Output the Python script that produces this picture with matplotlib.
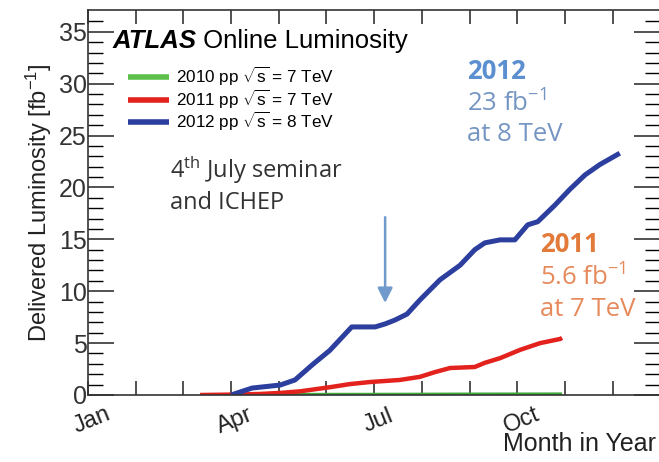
import matplotlib
matplotlib.use("Agg")
import matplotlib.pyplot as plt
import numpy as np

plt.rcParams['font.family'] = ['Liberation Sans', 'DejaVu Sans']
plt.rcParams['mathtext.fontset'] = 'custom'
plt.rcParams['mathtext.rm'] = 'Liberation Sans'
plt.rcParams['mathtext.it'] = 'Liberation Sans:italic'

# Months since Jan 1 (x) and delivered luminosity in fb^-1 (y)
months_2012 = [3.0, 3.44, 4.03, 4.34, 4.70, 5.07, 5.53, 6.02, 6.23, 6.44, 6.69, 6.96,
               7.38, 7.80, 8.11, 8.32, 8.64, 8.95, 9.22, 9.43, 9.79, 10.10, 10.42,
               10.73, 11.15]
lumi_2012 = [0.0, 0.67, 0.96, 1.45, 2.9, 4.3, 6.56, 6.56, 6.85, 7.23, 7.8, 9.16,
             11.1, 12.5, 14.0, 14.66, 14.95, 14.95, 16.4, 16.7, 18.3, 19.8, 21.2,
             22.2, 23.3]

months_2011 = [2.35, 3.19, 3.6, 4.03, 4.44, 5.07, 5.49, 5.91, 6.54, 6.96, 7.27, 7.59,
               8.11, 8.32, 8.64, 9.06, 9.48, 9.9, 9.94]
lumi_2011 = [0.0, 0.05, 0.1, 0.2, 0.35, 0.75, 1.05, 1.25, 1.45, 1.75, 2.2, 2.6,
             2.7, 3.1, 3.55, 4.35, 5.0, 5.4, 5.5]

months_2010 = [3.7, 5.0, 6.5, 8.0, 9.94]
lumi_2010 = [0.0, 0.01, 0.02, 0.04, 0.05]

month_ticks = [0, 3, 6, 9]
month_labels = ['Jan', 'Apr', 'Jul', 'Oct']

fig = plt.figure(figsize=(6.59, 4.62), dpi=100)
ax = fig.add_axes([88/659, 1 - 395/462, 1 - 88/659 + 0.002, (395 - 10)/462])

c10, c11, c12 = '#3fae3a', '#e3221d', '#2c3f9e'
l10, = ax.plot(months_2010, lumi_2010, color=c10, lw=3.0, solid_capstyle='butt')
l11, = ax.plot(months_2011, lumi_2011, color=c11, lw=3.2, solid_capstyle='butt')
l12, = ax.plot(months_2012, lumi_2012, color=c12, lw=3.6, solid_capstyle='butt')

ax.set_xlim(0, 12)
ax.set_ylim(0, 37.1)

ax.set_xticks(np.arange(0, 12))
ax.set_xticklabels(['' for _ in range(12)])
ax.set_yticks(np.arange(0, 36, 5))
ax.set_yticks(np.arange(0, 37, 1), minor=True)
ax.tick_params(axis='y', which='major', direction='in', length=19, width=1.2,
               right=True, labelsize=18, pad=1)
ax.tick_params(axis='y', which='minor', direction='in', length=11, width=1.0, right=True)
ax.tick_params(axis='x', which='major', direction='in', length=10, width=1.2, top=True)
for s in ax.spines.values():
    s.set_linewidth(1.2)
    s.set_color('#333333')
ax.tick_params(colors='#333333')

for m, lab in zip(month_ticks, month_labels):
    ax.text(m, -1.5, lab, rotation=22, ha='center', va='top', fontsize=17,
            color='#222222', transform=ax.transData, rotation_mode='anchor')

ax.set_ylabel('Delivered Luminosity [fb$^{-1}$]', fontsize=17, labelpad=3, color='#222222')
fig.text(0.995, 0.012, 'Month in Year', ha='right', va='bottom', fontsize=18, color='#222222')

atl = ax.text(0.042, 0.92, 'ATLAS', transform=ax.transAxes, fontsize=18.5, fontweight='bold',
              fontstyle='italic', va='center', ha='left')
ax.annotate(' Online Luminosity', xy=(1.0, 0.5), xycoords=atl, fontsize=18.5,
            va='center', ha='left')

leg = ax.legend([l10, l11, l12],
                ['2010 pp $\\sqrt{\\mathrm{s}}$ = 7 TeV', '2011 pp $\\sqrt{\\mathrm{s}}$ = 7 TeV',
                 '2012 pp $\\sqrt{\\mathrm{s}}$ = 8 TeV'],
                loc='upper left', bbox_to_anchor=(0.058, 0.874), frameon=False,
                fontsize=12.3, handlelength=2.4, handletextpad=0.4, labelspacing=-0.05,
                borderaxespad=0)
for h, c in zip(leg.get_lines(), ['#5cc04a', c11, c12]):
    h.set_color(c)
    h.set_linewidth(4)

tf = 'Open Sans'
fs = 18.5
blue_t = '#5b8fcf'
ax.text(0.663, 0.84, '2012', transform=ax.transAxes, fontsize=fs, fontweight='bold',
        color=blue_t, family=tf, va='center')
ax.text(0.663, 0.757, '23 fb$^{\\mathregular{-1}}$', transform=ax.transAxes, fontsize=fs,
        color='#7596c3', family=tf, va='center')
ax.text(0.663, 0.676, 'at 8 TeV', transform=ax.transAxes, fontsize=fs,
        color='#7596c3', family=tf, va='center')

org = '#e27a3a'
ax.text(0.79, 0.39, '2011', transform=ax.transAxes, fontsize=fs, fontweight='bold',
        color=org, family=tf, va='center')
ax.text(0.79, 0.305, '5.6 fb$^{\\mathregular{-1}}$', transform=ax.transAxes, fontsize=fs,
        color='#e68a5c', family=tf, va='center')
ax.text(0.79, 0.222, 'at 7 TeV', transform=ax.transAxes, fontsize=fs,
        color='#e68a5c', family=tf, va='center')

ax.text(0.143, 0.547, '4$^{\\mathregular{th}}$ July seminar\nand ICHEP', transform=ax.transAxes,
        fontsize=17, color='#333333', family=tf, va='center', linespacing=1.25)

ax.annotate('', xy=(6.23, 8.6), xytext=(6.23, 17.4),
            arrowprops=dict(arrowstyle='-|>,head_width=0.45,head_length=0.9',
                            color='#7099cc', lw=1.8))

fig.savefig('out.png', dpi=100)
